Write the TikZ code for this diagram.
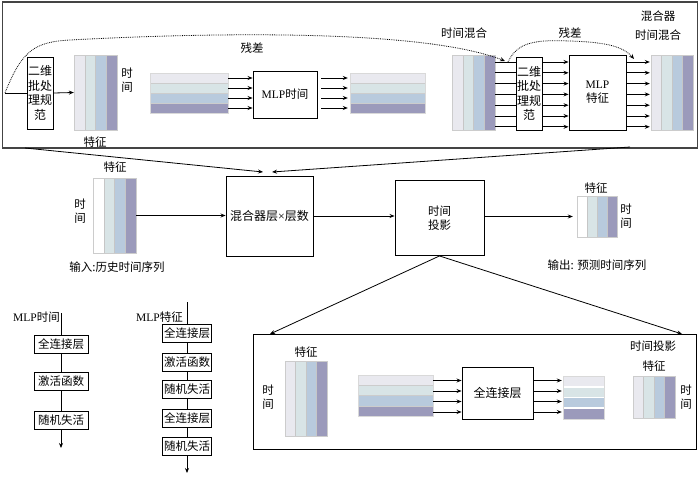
\documentclass[tikz,border=0pt]{standalone}
\usepackage{fontspec}
\setmainfont{Liberation Serif}
\newfontfamily\cjk{Noto Sans CJK SC}
\usetikzlibrary{arrows.meta,calc}
\definecolor{c1}{HTML}{E9E9EF}
\definecolor{c2}{HTML}{D8E4E6}
\definecolor{c3}{HTML}{B8CADD}
\definecolor{c4}{HTML}{9B9ABB}
\definecolor{framecol}{HTML}{444444}
\tikzset{
 every node/.style={font=\cjk\fontsize{11.5}{14}\selectfont},
 box/.style={draw=black, line width=0.9pt, inner sep=1pt, align=center, fill=white},
 lbl/.style={inner sep=0pt, align=center},
 arr/.style={-{Stealth[length=5pt,width=4pt]}, line width=0.8pt},
 ln/.style={line width=0.8pt},
 dotarr/.style={densely dotted, line width=0.8pt, -{Stealth[length=5pt,width=4pt]}},
 vmat/.style={inner sep=0pt, draw=gray!40, line width=0.4pt, path picture={
   \foreach \i/\c in {0/#1,1/c2,2/c3,3/c4}{
     \pgfmathsetmacro\a{\i/4}\pgfmathsetmacro\b{(\i+1)/4}
     \fill[\c] ($(path picture bounding box.south west)!\a!(path picture bounding box.south east)$) rectangle ($(path picture bounding box.north west)!\b!(path picture bounding box.north east)$);
     \draw[gray!45, line width=0.4pt] ($(path picture bounding box.south west)!\a!(path picture bounding box.south east)$) -- ($(path picture bounding box.north west)!\a!(path picture bounding box.north east)$);
   }}},
 vmat/.default=c1,
 hmat/.style={inner sep=0pt, draw=gray!30, line width=0.4pt, path picture={
   \foreach \i/\c in {0/c1,1/c2,2/c3,3/c4}{
     \pgfmathsetmacro\a{\i/4}\pgfmathsetmacro\b{(\i+1)/4}
     \fill[\c] ($(path picture bounding box.north west)!\a!(path picture bounding box.south west)$) rectangle ($(path picture bounding box.north east)!\b!(path picture bounding box.south east)$);
     \draw[#1] ($(path picture bounding box.north west)!\a!(path picture bounding box.south west)$) -- ($(path picture bounding box.north east)!\a!(path picture bounding box.south east)$);
   }}},
 hmat/.default={gray!40, line width=0.4pt},
}
\begin{document}
\begin{tikzpicture}[x=1pt,y=-1pt]
\useasboundingbox (0,0) rectangle (700,484);

% ---------- top frame ----------
\node[draw=framecol, line width=1.2pt, minimum width=695pt, minimum height=146pt, inner sep=0pt] (top) at (350,75) {};

\coordinate (s0) at (5,93);
\node[box, minimum width=26pt, minimum height=72pt, inner sep=0pt, font=\cjk\fontsize{12}{14.5}\selectfont] (bn1) at (40,93) {二维\\批处\\理规\\范};
\node[vmat, minimum width=43pt, minimum height=75pt] (m1) at (95.5,92.5) {};
\node[lbl] (m1t) at (127,80) {时\\间};
\node[lbl] (m1f) at (95,142) {特征};
\draw[ln] (s0) -- (bn1.west);
\draw[arr] (bn1.east) -- (m1.west);

\node[hmat, minimum width=78pt, minimum height=40pt] (h1) at (189,93) {};
\node[box, minimum width=64pt, minimum height=47pt] (mlpt) at (285,94.5) {{\rmfamily MLP}时间};
\node[hmat, minimum width=75pt, minimum height=40pt] (h2) at (387.5,93) {};
\foreach \yy in {78,88,98,108}{
  \draw[arr] (h1.east |- 0,\yy) -- (mlpt.west |- 0,\yy);
  \draw[arr, shorten <=4pt, shorten >=2pt] (mlpt.east |- 0,\yy) -- (h2.west |- 0,\yy);
}

\node[vmat, minimum width=43pt, minimum height=75pt] (m2) at (473.5,92.5) {};
\node[box, minimum width=26pt, minimum height=73pt, inner sep=0pt, font=\cjk\fontsize{12}{14.5}\selectfont] (bn2) at (529,93.5) {二维\\批处\\理规\\范};
\node[box, minimum width=57pt, minimum height=75pt] (mlpf) at (597.5,92.5) {{\rmfamily MLP}\\特征};
\node[vmat, minimum width=42pt, minimum height=75pt] (m3) at (672,92.5) {};
\foreach \yy in {62,72.8,83.6,94.4,105.2,116,126.8}{
  \draw[ln] (m2.east |- 0,\yy) -- (bn2.west |- 0,\yy);
  \draw[arr] (bn2.east |- 0,\yy) -- (mlpf.west |- 0,\yy);
  \draw[arr, shorten >=1pt] (mlpf.east |- 0,\yy) -- (m3.west |- 0,\yy);
}

\coordinate (r1) at (505,61);
\draw[dotarr] (s0) .. controls (22,50) and (35,42) .. (70,40) .. controls (200,33) and (420,28) .. (r1);
\coordinate (r2s) at (508,62);
\coordinate (r2e) at (634,59);
\draw[dotarr] (r2s) .. controls (518,40) and (540,40) .. (570,41) .. controls (600,42) and (622,45) .. (r2e);

\node[lbl] (res1) at (252,48) {残差};
\node[lbl] (tm1) at (464,33) {时间混合};
\node[lbl] (res2) at (570,33) {残差};
\node[lbl] (mx1) at (658,16) {混合器};
\node[lbl] (tm2) at (658,35) {时间混合};

% ---------- middle row ----------
\coordinate (t1) at (25,148);
\coordinate (t2) at (630,147);
\coordinate (k1) at (263,172);
\coordinate (k2) at (272,172);
\draw[arr] (t1) -- (k1);
\draw[arr] (t2) -- (k2);

\node[vmat=white, minimum width=43pt, minimum height=75pt] (min) at (114.5,215.5) {};
\node[lbl] (minf) at (115,167) {特征};
\node[lbl] (mint) at (80,211) {时\\间};
\node[lbl] (minl) at (117,267) {输入:历史时间序列};

\node[box, minimum width=87pt, minimum height=80pt, font=\cjk\fontsize{12}{14}\selectfont] (mix) at (269.5,216) {混合器层{\rmfamily ×}层数};
\node[box, minimum width=89pt, minimum height=75pt] (proj) at (439.5,218) {时间\\投影};
\node[vmat=white, minimum width=40pt, minimum height=41pt] (mout) at (597,216.5) {};
\node[lbl] (moutf) at (596,188) {特征};
\node[lbl] (moutt) at (626,216) {时\\间};
\node[lbl] (moutl) at (597,265) {输出: 预测时间序列};

\draw[arr] (min.east) -- (min.east -| mix.west);
\draw[arr] (mix.east) -- (mix.east -| proj.west);
\draw[arr, shorten >=4pt] (proj.east |- mout.west) -- (mout.west);

% ---------- bottom box ----------
\coordinate (p1) at (270,334);
\coordinate (p2) at (682,334);
\draw[arr] (proj.south) -- (p1);
\draw[arr] (proj.south) -- (p2);
\node[draw=black, line width=1pt, minimum width=443pt, minimum height=115pt, inner sep=0pt] (bot) at (474.5,391.5) {};

\node[vmat, minimum width=42pt, minimum height=75pt] (bm1) at (306,398.5) {};
\node[lbl] (bm1f) at (306,352) {特征};
\node[lbl] (bm1t) at (268,397) {时\\间};
\node[hmat, minimum width=75pt, minimum height=41pt] (bh1) at (395.5,395.5) {};
\node[box, minimum width=71pt, minimum height=52pt, font=\cjk\fontsize{12}{14}\selectfont] (fc) at (497.5,393) {全连接层};
\node[hmat={white, line width=1.6pt}, minimum width=41pt, minimum height=43pt] (bo) at (583.5,397.5) {};
\foreach \yy in {380.5,391,401.5,412}{
  \draw[arr] (bh1.east |- 0,\yy) -- (fc.west |- 0,\yy);
  \draw[arr, shorten >=1pt] (fc.east |- 0,\yy) -- (bo.west |- 0,\yy);
}
\node[vmat, minimum width=42pt, minimum height=42pt] (bm2) at (654,397) {};
\node[lbl] (bm2l) at (653,346) {时间投影};
\node[lbl] (bm2f) at (654,366) {特征};
\node[lbl] (bm2t) at (686,397) {时\\间};

% ---------- MLP time column ----------
\coordinate (a0) at (61,313);
\node[box, minimum width=54pt, minimum height=18pt] (a1) at (61,344) {全连接层};
\node[box, minimum width=54pt, minimum height=18pt] (a2) at (61,381) {激活函数};
\node[box, minimum width=54pt, minimum height=18pt] (a3) at (61,420) {随机失活};
\coordinate (a4) at (61,448);
\node[lbl, anchor=east] (la) at (60,317) {{\rmfamily MLP}时间};
\draw[ln] (a0) -- (a1);
\draw[ln] (a1) -- (a2);
\draw[ln] (a2) -- (a3);
\draw[arr] (a3) -- (a4);

% ---------- MLP feature column ----------
\coordinate (b0) at (187,302);
\node[box, minimum width=49pt, minimum height=18pt] (b1) at (187,333.5) {全连接层};
\node[box, minimum width=49pt, minimum height=18pt] (b2) at (187,362.5) {激活函数};
\node[box, minimum width=49pt, minimum height=18pt] (b3) at (187,389.5) {随机失活};
\node[box, minimum width=49pt, minimum height=18pt] (b4) at (187,418.5) {全连接层};
\node[box, minimum width=49pt, minimum height=18pt] (b5) at (187,446) {随机失活};
\coordinate (b6) at (187,473);
\node[lbl, anchor=east] (lb) at (183,317) {{\rmfamily MLP}特征};
\draw[ln] (b0) -- (b1);
\draw[ln] (b1) -- (b2);
\draw[ln] (b2) -- (b3);
\draw[ln] (b3) -- (b4);
\draw[ln] (b4) -- (b5);
\draw[arr] (b5) -- (b6);
\end{tikzpicture}
\end{document}
